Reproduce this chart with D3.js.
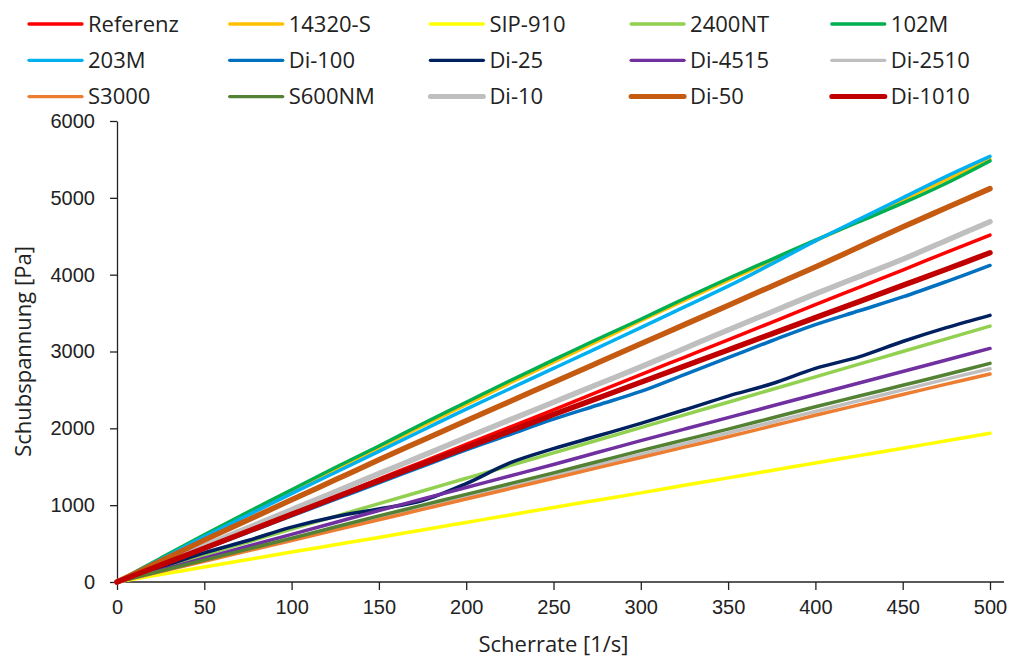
<!DOCTYPE html>
<html>
<head>
<meta charset="utf-8">
<script src="https://cdn.jsdelivr.net/npm/d3@7"></script>
<style>
    body { margin: 0; background: #fff; }
    svg { font-family: "Open Sans", sans-serif; }
    .axis text { fill: #222; font-size: 20px; }
    .axis path, .axis line { stroke: #222; stroke-width: 1.3px; }
</style>
</head>
<body>
<div id="chart"></div>
<script>
// shear rate [1/s]
const shearRate = [0, 25, 50, 75, 100, 125, 150, 175, 200, 225, 250, 275, 300, 325, 350, 375, 400, 425, 450, 475, 500];

// shear stress [Pa]
const referenz = [0, 220, 440, 665, 890, 1115, 1340, 1565, 1790, 2015, 2240, 2470, 2700, 2925, 3150, 3380, 3610, 3835, 4060, 4290, 4515];
const s14320 = [0, 300, 600, 890, 1180, 1465, 1745, 2030, 2310, 2590, 2860, 3130, 3400, 3665, 3925, 4180, 4440, 4700, 4970, 5240, 5500];
const sip910 = [0, 97, 195, 292, 390, 485, 580, 678, 775, 872, 970, 1065, 1160, 1258, 1355, 1452, 1550, 1645, 1740, 1838, 1935];
const nt2400 = [0, 175, 350, 520, 690, 855, 1020, 1185, 1350, 1515, 1680, 1845, 2010, 2175, 2340, 2505, 2670, 2835, 3000, 3165, 3330];
const m102 = [0, 310, 615, 910, 1200, 1490, 1770, 2060, 2340, 2620, 2890, 3160, 3420, 3690, 3950, 4200, 4450, 4690, 4930, 5190, 5480];
const m203 = [0, 295, 590, 870, 1150, 1425, 1700, 1975, 2250, 2515, 2780, 3045, 3310, 3580, 3850, 4140, 4440, 4720, 5000, 5280, 5540];
const di100 = [0, 215, 430, 645, 860, 1075, 1290, 1505, 1720, 1920, 2120, 2300, 2480, 2700, 2920, 3140, 3350, 3530, 3710, 3910, 4120];
const di25 = [0, 190, 380, 540, 715, 850, 950, 1060, 1280, 1550, 1735, 1900, 2065, 2240, 2420, 2580, 2780, 2930, 3130, 3310, 3470];
const di4515 = [0, 155, 310, 465, 620, 775, 930, 1080, 1230, 1380, 1530, 1685, 1840, 1990, 2140, 2290, 2440, 2590, 2740, 2890, 3040];
const di2510 = [0, 138, 275, 415, 555, 695, 835, 970, 1110, 1250, 1390, 1525, 1660, 1800, 1940, 2080, 2220, 2360, 2500, 2640, 2775];
const s3000 = [0, 135, 270, 405, 540, 675, 810, 945, 1080, 1215, 1350, 1485, 1620, 1755, 1890, 2030, 2170, 2305, 2440, 2575, 2708];
const s600nm = [0, 143, 285, 428, 570, 715, 860, 1000, 1140, 1280, 1420, 1565, 1710, 1850, 1990, 2135, 2280, 2420, 2560, 2700, 2846];
const di10 = [0, 235, 470, 705, 940, 1175, 1410, 1645, 1880, 2110, 2340, 2570, 2800, 3040, 3280, 3515, 3750, 3975, 4200, 4445, 4690];
const di50 = [0, 272, 545, 808, 1070, 1330, 1590, 1845, 2100, 2350, 2600, 2850, 3100, 3350, 3600, 3850, 4100, 4360, 4620, 4870, 5120];
const di1010 = [0, 220, 440, 660, 880, 1100, 1320, 1535, 1750, 1965, 2180, 2390, 2600, 2810, 3020, 3230, 3440, 3650, 3860, 4070, 4285];

const seriesNames = ['Referenz', '14320-S', 'SIP-910', '2400NT', '102M', '203M', 'Di-100', 'Di-25', 'Di-4515', 'Di-2510', 'S3000', 'S600NM', 'Di-10', 'Di-50', 'Di-1010'];
const seriesValues = [referenz, s14320, sip910, nt2400, m102, m203, di100, di25, di4515, di2510, s3000, s600nm, di10, di50, di1010];
const seriesColors = ['#FF0000', '#FFC000', '#FFFF00', '#92D050', '#00B050', '#00B0F0', '#0070C0', '#002060', '#7030A0', '#BFBFBF', '#ED7D31', '#548235', '#BFBFBF', '#C55A11', '#C00000'];
const thickSeries = ['Di-10', 'Di-50', 'Di-1010'];

const xTicks = [0, 50, 100, 150, 200, 250, 300, 350, 400, 450, 500];
const yTicks = [0, 1000, 2000, 3000, 4000, 5000, 6000];

const margin = { top: 121, right: 23, bottom: 77, left: 117 };
const width = 1013 - margin.left - margin.right;   // 873
const height = 659 - margin.top - margin.bottom;   // 461

const svg = d3.select('#chart')
    .append('svg')
    .attr('width', 1013)
    .attr('height', 659);

const group = svg.append('g')
    .attr('transform', 'translate(' + margin.left + ',' + margin.top + ')');

const xScale = d3.scaleLinear().domain([0, 500]).range([0, width]);
const yScale = d3.scaleLinear().domain([0, 6000]).range([height, 0]);

// axes
const xAxis = d3.axisBottom(xScale).tickValues(xTicks).tickSize(8).tickSizeOuter(0).tickPadding(10);
const yAxis = d3.axisLeft(yScale).tickValues(yTicks).tickFormat(d3.format('d')).tickSize(7).tickSizeOuter(0).tickPadding(15);

const xAxisGroup = group.append('g')
    .attr('class', 'x-axis axis')
    .attr('transform', 'translate(0,' + height + ')')
    .call(xAxis);
xAxisGroup.select('.domain').remove();
xAxisGroup.append('line')
    .attr('x1', 0).attr('x2', width + 14)
    .attr('y1', 0).attr('y2', 0);

const yAxisGroup = group.append('g')
    .attr('class', 'y-axis axis')
    .call(yAxis);

// lines
const line = d3.line()
    .x(d => xScale(d[0]))
    .y(d => yScale(d[1]))
    .curve(d3.curveCatmullRom.alpha(0.5));

seriesNames.forEach((name, i) => {
    const pts = shearRate.map((x, j) => [x, seriesValues[i][j]]);
    group.append('path')
        .datum(pts)
        .attr('fill', 'none')
        .attr('stroke', seriesColors[i])
        .attr('stroke-width', thickSeries.includes(name) ? 5.5 : 3.5)
        .attr('stroke-linecap', 'round')
        .attr('stroke-linejoin', 'round')
        .attr('d', line);
});

// axis titles
svg.append('text')
    .text('Scherrate [1/s]')
    .attr('x', margin.left + width / 2)
    .attr('y', 652)
    .attr('text-anchor', 'middle')
    .style('font-size', '22px')
    .style('fill', '#222');

svg.append('text')
    .text('Schubspannung [Pa]')
    .attr('transform', 'translate(31,' + (margin.top + height / 2) + ') rotate(-90)')
    .attr('text-anchor', 'middle')
    .style('font-size', '22px')
    .style('fill', '#222');

// legend: 3 rows x 5 columns
const legend = svg.append('g').attr('class', 'legend');
seriesNames.forEach((name, i) => {
    const col = i % 5;
    const row = Math.floor(i / 5);
    const lx = 29 + col * 200.7;
    const ly = 24 + row * 36.3;
    legend.append('line')
        .attr('x1', lx).attr('x2', lx + 53)
        .attr('y1', ly).attr('y2', ly)
        .attr('stroke', seriesColors[i])
        .attr('stroke-width', thickSeries.includes(name) ? 5 : 3.3)
        .attr('stroke-linecap', 'round');
    legend.append('text')
        .text(name)
        .attr('x', lx + 59)
        .attr('y', ly)
        .attr('dy', '0.35em')
        .style('font-size', '22px')
        .style('fill', '#222');
});
</script>
</body>
</html>
